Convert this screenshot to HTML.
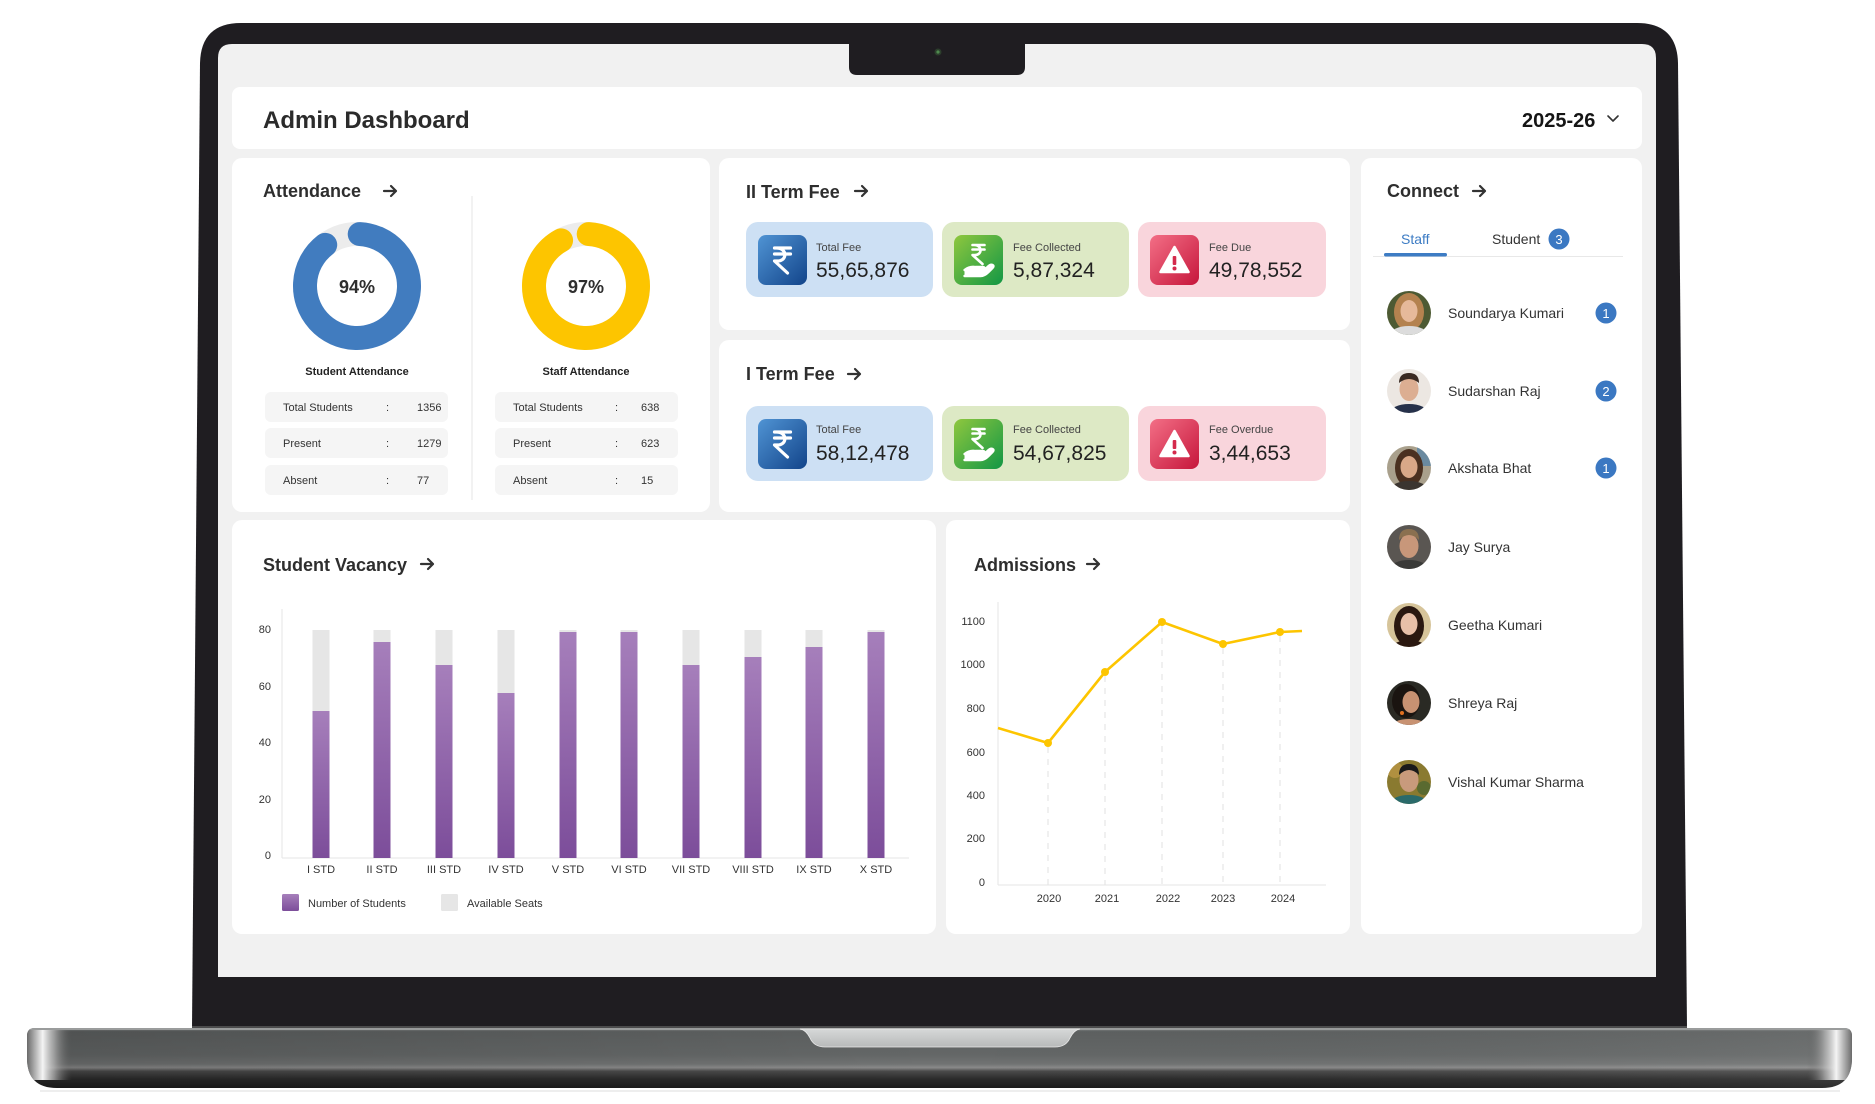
<!DOCTYPE html>
<html><head><meta charset="utf-8"><style>
html,body{margin:0;padding:0;background:#fff;}
svg{display:block;}
text{font-family:"Liberation Sans",Arial,sans-serif;}
</style></head><body>
<svg width="1875" height="1104" viewBox="0 0 1875 1104" xmlns="http://www.w3.org/2000/svg">
<defs>
  <linearGradient id="baseV" x1="0" y1="1028" x2="0" y2="1088" gradientUnits="userSpaceOnUse">
    <stop offset="0" stop-color="#8c8e8e"/><stop offset="0.06" stop-color="#5d6060"/>
    <stop offset="0.45" stop-color="#646767"/><stop offset="0.6" stop-color="#717373"/>
    <stop offset="0.66" stop-color="#8a8a8a"/><stop offset="0.72" stop-color="#4a4a4a"/>
    <stop offset="0.85" stop-color="#2b2b2b"/><stop offset="1" stop-color="#1c1c1c"/>
  </linearGradient>
  <linearGradient id="baseH" x1="27" y1="0" x2="1852" y2="0" gradientUnits="userSpaceOnUse">
    <stop offset="0" stop-color="#000" stop-opacity="0.15"/><stop offset="0.5" stop-color="#000" stop-opacity="0"/>
    <stop offset="1" stop-color="#fff" stop-opacity="0.08"/>
  </linearGradient>
  <linearGradient id="endL" x1="27" y1="0" x2="72" y2="0" gradientUnits="userSpaceOnUse">
    <stop offset="0" stop-color="#6a6a6a"/><stop offset="0.35" stop-color="#f4f4f4"/>
    <stop offset="0.6" stop-color="#bdbdbd" stop-opacity="0.7"/><stop offset="1" stop-color="#5a5a5a" stop-opacity="0"/>
  </linearGradient>
  <linearGradient id="endR" x1="1852" y1="0" x2="1807" y2="0" gradientUnits="userSpaceOnUse">
    <stop offset="0" stop-color="#6a6a6a"/><stop offset="0.35" stop-color="#f4f4f4"/>
    <stop offset="0.6" stop-color="#bdbdbd" stop-opacity="0.7"/><stop offset="1" stop-color="#5a5a5a" stop-opacity="0"/>
  </linearGradient>
  <linearGradient id="pad" x1="0" y1="0" x2="0" y2="1">
    <stop offset="0" stop-color="#d6d8d8"/><stop offset="1" stop-color="#b8baba"/>
  </linearGradient>
  <clipPath id="baseClip"><path d="M35,1028 H1844 Q1852,1028 1852,1036 V1058 Q1852,1088 1822,1088 H57 Q27,1088 27,1058 V1036 Q27,1028 35,1028 Z"/></clipPath>
  <linearGradient id="purp" x1="0" y1="0" x2="0" y2="1">
    <stop offset="0" stop-color="#a67fbb"/><stop offset="1" stop-color="#7c4d9a"/>
  </linearGradient>
  <linearGradient id="icB" x1="0" y1="0" x2="1" y2="1">
    <stop offset="0" stop-color="#5094d4"/><stop offset="1" stop-color="#12448a"/>
  </linearGradient>
  <linearGradient id="icG" x1="0" y1="0" x2="1" y2="1">
    <stop offset="0" stop-color="#8fc73e"/><stop offset="1" stop-color="#129745"/>
  </linearGradient>
  <linearGradient id="icR" x1="0" y1="0" x2="1" y2="1">
    <stop offset="0" stop-color="#f36f86"/><stop offset="1" stop-color="#c6163b"/>
  </linearGradient>
  <clipPath id="av"><circle cx="0" cy="0" r="22"/></clipPath>
  <g id="rupee">
    <path d="M-8,-12 H8 M-8,-6 H8 M-6,-12 C5,-12 5,1 -5,1 H-8 L5,13" fill="none" stroke="#fff" stroke-width="3.2" stroke-linecap="round" stroke-linejoin="round"/>
  </g>
  <g id="rupeeHand">
    <path d="M-6,-17 H6 M-6,-12.5 H6 M-4.5,-17 C4,-17 4,-7 -3.5,-7 H-6 L4,2" fill="none" stroke="#fff" stroke-width="2.6" stroke-linecap="round" stroke-linejoin="round"/>
    <path d="M-14,8 Q-9,4 -3,5 H4 Q7,5 6,8 H-2 M-14,14 H2 Q6,14 10,10 L14,6 Q16,4 14,3 Q12,2 9,5 L6,8" fill="#fff" stroke="#fff" stroke-width="2.4" stroke-linejoin="round" stroke-linecap="round"/>
    <path d="M-14,8 L-14,15 H2 Q6,15 10,10 L6,8 H-2 Z" fill="#fff"/>
  </g>
  <g id="warn">
    <path d="M0,-14 L14,11 H-14 Z" fill="#fff" stroke="#fff" stroke-width="2.5" stroke-linejoin="round"/>
    <rect x="-1.8" y="-5" width="3.6" height="9" rx="1" fill="#d42a4c"/>
    <circle cx="0" cy="7.5" r="2" fill="#d42a4c"/>
  </g>
</defs>

<!-- Laptop bezel -->
<path d="M241,23 H1637 Q1677,23 1678,63 L1687,1028 H192 L200,63 Q201,23 241,23 Z" fill="#1f1d21"/>
<!-- Screen -->
<path d="M232,44 H1642 Q1656,44 1656,58 V977 H218 V58 Q218,44 232,44 Z" fill="#f1f1f1"/>
<!-- Notch -->
<path d="M849,44 H1025 V67 Q1025,75 1017,75 H857 Q849,75 849,67 Z" fill="#1f1d21"/>
<circle cx="938" cy="52" r="3.5" fill="#2c3e2c"/><circle cx="938" cy="52" r="1.6" fill="#4f8a4f"/>

<!-- Base -->
<line x1="192" y1="1027" x2="1687" y2="1027" stroke="#5c5c5c" stroke-width="1.5"/>
<g clip-path="url(#baseClip)">
  <rect x="27" y="1028" width="1825" height="60" fill="url(#baseV)"/>
  <rect x="27" y="1028" width="1825" height="60" fill="url(#baseH)"/>
  <rect x="27" y="1028" width="45" height="52" fill="url(#endL)"/>
  <rect x="1807" y="1028" width="45" height="52" fill="url(#endR)"/>
  <rect x="27" y="1028" width="1825" height="2" fill="#9a9c9c"/>
</g>
<path d="M800,1029 H1080 Q1074,1030 1070,1038 Q1066,1047 1055,1047 H825 Q814,1047 810,1038 Q806,1030 800,1029 Z" fill="url(#pad)" stroke="#e8e8e8" stroke-width="0.8"/>
<line x1="40" y1="1091" x2="1840" y2="1091" stroke="#eeeeee" stroke-width="2"/>

<!-- Cards -->
<g fill="#ffffff">
  <rect x="232" y="87" width="1410" height="62" rx="8"/>
  <rect x="232" y="158" width="478" height="354" rx="10"/>
  <rect x="719" y="158" width="631" height="172" rx="10"/>
  <rect x="719" y="340" width="631" height="172" rx="10"/>
  <rect x="232" y="520" width="704" height="414" rx="10"/>
  <rect x="946" y="520" width="404" height="414" rx="10"/>
  <rect x="1361" y="158" width="281" height="776" rx="10"/>
</g>

<!-- Header -->
<text x="263" y="128" font-size="24" font-weight="bold" fill="#2b2b2b">Admin Dashboard</text>
<text x="1522" y="127" font-size="20" font-weight="bold" fill="#151515">2025-26</text>
<polyline points="1608,116 1613,121 1618,116" fill="none" stroke="#333" stroke-width="1.6" stroke-linecap="round" stroke-linejoin="round"/>

<!-- Titles + arrows -->
<g font-size="18" font-weight="bold" fill="#2e2e2e">
  <text x="263" y="197">Attendance</text>
  <text x="746" y="198">II Term Fee</text>
  <text x="746" y="380">I Term Fee</text>
  <text x="263" y="571">Student Vacancy</text>
  <text x="974" y="571">Admissions</text>
  <text x="1387" y="197">Connect</text>
</g>
<g fill="none" stroke="#333" stroke-width="2.2" stroke-linecap="round" stroke-linejoin="round">
  <path d="M384,191 H396 M391,186 L396,191 L391,196"/>
  <path d="M855,191 H867 M862,186 L867,191 L862,196"/>
  <path d="M848,374 H860 M855,369 L860,374 L855,379"/>
  <path d="M421,564 H433 M428,559 L433,564 L428,569"/>
  <path d="M1087,564 H1099 M1094,559 L1099,564 L1094,569"/>
  <path d="M1473,191 H1485 M1480,186 L1485,191 L1480,196"/>
</g>

<!-- Attendance donuts -->
<circle cx="357" cy="286" r="52" fill="none" stroke="#ececec" stroke-width="24"/>
<circle cx="357" cy="286" r="52" fill="none" stroke="#417cbf" stroke-width="24" stroke-linecap="round" stroke-dasharray="289.5 400" transform="rotate(-87 357 286)"/>
<circle cx="586" cy="286" r="52" fill="none" stroke="#ececec" stroke-width="24"/>
<circle cx="586" cy="286" r="52" fill="none" stroke="#fdc500" stroke-width="24" stroke-linecap="round" stroke-dasharray="297.7 400" transform="rotate(-87 586 286)"/>
<text x="357" y="293" font-size="18" font-weight="bold" fill="#2e2e2e" text-anchor="middle">94%</text>
<text x="586" y="293" font-size="18" font-weight="bold" fill="#2e2e2e" text-anchor="middle">97%</text>
<text x="357" y="375" font-size="11" font-weight="bold" fill="#222" text-anchor="middle">Student Attendance</text>
<text x="586" y="375" font-size="11" font-weight="bold" fill="#222" text-anchor="middle">Staff Attendance</text>
<line x1="472" y1="196" x2="472" y2="500" stroke="#e6e6e6" stroke-width="1"/>

<g fill="#f5f5f5">
  <rect x="265" y="392" width="183" height="30" rx="6"/>
  <rect x="265" y="428" width="183" height="30" rx="6"/>
  <rect x="265" y="465" width="183" height="30" rx="6"/>
  <rect x="495" y="392" width="183" height="30" rx="6"/>
  <rect x="495" y="428" width="183" height="30" rx="6"/>
  <rect x="495" y="465" width="183" height="30" rx="6"/>
</g>
<g font-size="11" fill="#333">
  <text x="283" y="411">Total Students</text><text x="386" y="411">:</text><text x="417" y="411">1356</text>
  <text x="283" y="447">Present</text><text x="386" y="447">:</text><text x="417" y="447">1279</text>
  <text x="283" y="484">Absent</text><text x="386" y="484">:</text><text x="417" y="484">77</text>
  <text x="513" y="411">Total Students</text><text x="615" y="411">:</text><text x="641" y="411">638</text>
  <text x="513" y="447">Present</text><text x="615" y="447">:</text><text x="641" y="447">623</text>
  <text x="513" y="484">Absent</text><text x="615" y="484">:</text><text x="641" y="484">15</text>
</g>

<!-- Fee boxes -->
<g>
  <rect x="746" y="222" width="187" height="75" rx="12" fill="#cde0f4"/>
  <rect x="942" y="222" width="187" height="75" rx="12" fill="#dde9c5"/>
  <rect x="1138" y="222" width="188" height="75" rx="12" fill="#f9d5dc"/>
  <rect x="746" y="406" width="187" height="75" rx="12" fill="#cde0f4"/>
  <rect x="942" y="406" width="187" height="75" rx="12" fill="#dde9c5"/>
  <rect x="1138" y="406" width="188" height="75" rx="12" fill="#f9d5dc"/>

  <rect x="758" y="235" width="49" height="50" rx="8" fill="url(#icB)"/>
  <rect x="954" y="235" width="49" height="50" rx="8" fill="url(#icG)"/>
  <rect x="1150" y="235" width="49" height="50" rx="8" fill="url(#icR)"/>
  <rect x="758" y="419" width="49" height="50" rx="8" fill="url(#icB)"/>
  <rect x="954" y="419" width="49" height="50" rx="8" fill="url(#icG)"/>
  <rect x="1150" y="419" width="49" height="50" rx="8" fill="url(#icR)"/>

  <use href="#rupee" transform="translate(782.5,260)"/>
  <use href="#rupee" transform="translate(782.5,444)"/>
  <use href="#rupeeHand" transform="translate(978.5,262)"/>
  <use href="#rupeeHand" transform="translate(978.5,446)"/>
  <use href="#warn" transform="translate(1174.5,261)"/>
  <use href="#warn" transform="translate(1174.5,445)"/>
</g>
<g font-size="11" fill="#444">
  <text x="816" y="251">Total Fee</text>
  <text x="1013" y="251">Fee Collected</text>
  <text x="1209" y="251">Fee Due</text>
  <text x="816" y="433">Total Fee</text>
  <text x="1013" y="433">Fee Collected</text>
  <text x="1209" y="433">Fee Overdue</text>
</g>
<g font-size="21" fill="#222">
  <text x="816" y="277">55,65,876</text>
  <text x="1013" y="277">5,87,324</text>
  <text x="1209" y="277">49,78,552</text>
  <text x="816" y="460">58,12,478</text>
  <text x="1013" y="460">54,67,825</text>
  <text x="1209" y="460">3,44,653</text>
</g>

<!-- Student Vacancy chart -->
<line x1="282" y1="609" x2="282" y2="858" stroke="#e5e5e5"/>
<line x1="282" y1="858" x2="909" y2="858" stroke="#e5e5e5"/>
<g font-size="11" fill="#333" text-anchor="end">
  <text x="271" y="633">80</text><text x="271" y="690">60</text><text x="271" y="746">40</text>
  <text x="271" y="803">20</text><text x="271" y="859">0</text>
</g>
<g fill="#e6e6e6">
  <rect x="312.5" y="630" width="17" height="228"/><rect x="373.5" y="630" width="17" height="228"/>
  <rect x="435.5" y="630" width="17" height="228"/><rect x="497.5" y="630" width="17" height="228"/>
  <rect x="559.5" y="630" width="17" height="228"/><rect x="620.5" y="630" width="17" height="228"/>
  <rect x="682.5" y="630" width="17" height="228"/><rect x="744.5" y="630" width="17" height="228"/>
  <rect x="805.5" y="630" width="17" height="228"/><rect x="867.5" y="630" width="17" height="228"/>
</g>
<g fill="url(#purp)">
  <rect x="312.5" y="711" width="17" height="147"/>
  <rect x="373.5" y="642" width="17" height="216"/>
  <rect x="435.5" y="665" width="17" height="193"/>
  <rect x="497.5" y="693" width="17" height="165"/>
  <rect x="559.5" y="632" width="17" height="226"/>
  <rect x="620.5" y="632" width="17" height="226"/>
  <rect x="682.5" y="665" width="17" height="193"/>
  <rect x="744.5" y="657" width="17" height="201"/>
  <rect x="805.5" y="647" width="17" height="211"/>
  <rect x="867.5" y="632" width="17" height="226"/>
</g>
<g font-size="11" fill="#333" text-anchor="middle">
  <text x="321" y="873">I STD</text><text x="382" y="873">II STD</text><text x="444" y="873">III STD</text>
  <text x="506" y="873">IV STD</text><text x="568" y="873">V STD</text><text x="629" y="873">VI STD</text>
  <text x="691" y="873">VII STD</text><text x="753" y="873">VIII STD</text><text x="814" y="873">IX STD</text>
  <text x="876" y="873">X STD</text>
</g>
<rect x="282" y="894" width="17" height="17" rx="1.5" fill="url(#purp)"/>
<text x="308" y="907" font-size="11" fill="#333">Number of Students</text>
<rect x="441" y="894" width="17" height="17" rx="1.5" fill="#e6e6e6"/>
<text x="467" y="907" font-size="11" fill="#333">Available Seats</text>

<!-- Admissions chart -->
<line x1="998" y1="602" x2="998" y2="885" stroke="#e5e5e5"/>
<line x1="998" y1="885" x2="1326" y2="885" stroke="#e5e5e5"/>
<g stroke="#e2e2e2" stroke-dasharray="6 6">
  <line x1="1048" y1="747" x2="1048" y2="885"/>
  <line x1="1105" y1="676" x2="1105" y2="885"/>
  <line x1="1162" y1="626" x2="1162" y2="885"/>
  <line x1="1223" y1="648" x2="1223" y2="885"/>
  <line x1="1280" y1="636" x2="1280" y2="885"/>
</g>
<g font-size="11" fill="#333" text-anchor="end">
  <text x="985" y="625">1100</text><text x="985" y="668">1000</text><text x="985" y="712">800</text>
  <text x="985" y="756">600</text><text x="985" y="799">400</text><text x="985" y="842">200</text>
  <text x="985" y="886">0</text>
</g>
<g font-size="11" fill="#333" text-anchor="middle">
  <text x="1049" y="902">2020</text><text x="1107" y="902">2021</text><text x="1168" y="902">2022</text>
  <text x="1223" y="902">2023</text><text x="1283" y="902">2024</text>
</g>
<polyline points="998,728 1048,743 1105,672 1162,622 1223,644 1280,632 1302,631" fill="none" stroke="#fdc500" stroke-width="2.6" stroke-linejoin="round"/>
<g fill="#fdc500">
  <circle cx="1048" cy="743" r="4"/><circle cx="1105" cy="672" r="4"/><circle cx="1162" cy="622" r="4"/>
  <circle cx="1223" cy="644" r="4"/><circle cx="1280" cy="632" r="4"/>
</g>

<!-- Connect panel -->
<text x="1401" y="244" font-size="14" fill="#3d7cc4">Staff</text>
<text x="1492" y="244" font-size="14" fill="#333">Student</text>
<circle cx="1559" cy="239" r="10.5" fill="#3b78c2"/>
<text x="1559" y="244" font-size="13" fill="#fff" text-anchor="middle">3</text>
<line x1="1373" y1="256.5" x2="1623" y2="256.5" stroke="#e8e8e8"/>
<rect x="1384" y="253" width="63" height="3.5" rx="1.7" fill="#3d7cc4"/>

<!-- avatars -->
<g transform="translate(1409,313)"><g clip-path="url(#av)">
  <rect x="-22" y="-22" width="44" height="44" fill="#4d5a33"/>
  <ellipse cx="0" cy="-1" rx="15" ry="19" fill="#b4824f"/>
  <ellipse cx="0" cy="-2" rx="8.5" ry="11" fill="#e6b99a"/>
  <ellipse cx="0" cy="22" rx="19" ry="9" fill="#dcdcdc"/>
</g></g>
<g transform="translate(1409,391)"><g clip-path="url(#av)">
  <rect x="-22" y="-22" width="44" height="44" fill="#ece7e2"/>
  <ellipse cx="0" cy="-2" rx="9.5" ry="12" fill="#dcae92"/>
  <path d="M-10,-8 Q-10,-18 0,-18 Q10,-18 10,-8 Q5,-12 0,-12 Q-5,-12 -10,-8 Z" fill="#3a2a22"/>
  <ellipse cx="0" cy="22" rx="19" ry="9" fill="#26314a"/>
</g></g>
<g transform="translate(1409,468)"><g clip-path="url(#av)">
  <rect x="-22" y="-22" width="44" height="44" fill="#a9a08c"/>
  <rect x="8" y="-22" width="14" height="20" fill="#6a8aa0"/>
  <ellipse cx="0" cy="0" rx="14" ry="19" fill="#4a3020"/>
  <ellipse cx="0" cy="-1" rx="8.5" ry="11" fill="#d9a888"/>
  <ellipse cx="0" cy="22" rx="19" ry="9" fill="#3b3530"/>
</g></g>
<g transform="translate(1409,547)"><g clip-path="url(#av)">
  <rect x="-22" y="-22" width="44" height="44" fill="#5a5652"/>
  <ellipse cx="0" cy="-1" rx="9.5" ry="12" fill="#c8977a"/>
  <path d="M-10,-7 Q-10,-18 0,-18 Q10,-18 10,-7 Q5,-12 0,-12 Q-5,-12 -10,-7 Z" fill="#8a7050"/>
  <ellipse cx="0" cy="22" rx="19" ry="9" fill="#3a3a38"/>
</g></g>
<g transform="translate(1409,625)"><g clip-path="url(#av)">
  <rect x="-22" y="-22" width="44" height="44" fill="#d6c49a"/>
  <ellipse cx="0" cy="1" rx="15" ry="20" fill="#2a1810"/>
  <ellipse cx="0" cy="-1" rx="8.5" ry="11" fill="#e8c0a8"/>
  <ellipse cx="0" cy="23" rx="17" ry="8" fill="#2a1810"/>
</g></g>
<g transform="translate(1409,703)"><g clip-path="url(#av)">
  <rect x="-22" y="-22" width="44" height="44" fill="#2a2a24"/>
  <ellipse cx="-3" cy="-2" rx="14" ry="17" fill="#1a1410"/>
  <ellipse cx="2" cy="-1" rx="8.5" ry="11" fill="#c89272"/>
  <circle cx="-7" cy="10" r="2" fill="#e07020"/>
  <ellipse cx="0" cy="23" rx="17" ry="7" fill="#c89272"/>
</g></g>
<g transform="translate(1409,782)"><g clip-path="url(#av)">
  <rect x="-22" y="-22" width="44" height="44" fill="#8a7a30"/>
  <circle cx="-14" cy="-12" r="8" fill="#b09040"/><circle cx="15" cy="6" r="7" fill="#5a6a30"/>
  <ellipse cx="0" cy="-2" rx="9.5" ry="12" fill="#c89a7c"/>
  <path d="M-10,-7 Q-10,-18 0,-18 Q10,-18 10,-7 Q5,-12 0,-12 Q-5,-12 -10,-7 Z" fill="#1a1a1a"/>
  <ellipse cx="0" cy="22" rx="19" ry="9" fill="#2a6a6a"/>
</g></g>

<g font-size="14" fill="#333">
  <text x="1448" y="318">Soundarya Kumari</text>
  <text x="1448" y="396">Sudarshan Raj</text>
  <text x="1448" y="473">Akshata Bhat</text>
  <text x="1448" y="552">Jay Surya</text>
  <text x="1448" y="630">Geetha Kumari</text>
  <text x="1448" y="708">Shreya Raj</text>
  <text x="1448" y="787">Vishal Kumar Sharma</text>
</g>
<g fill="#3b78c2">
  <circle cx="1606" cy="313" r="10.5"/><circle cx="1606" cy="391" r="10.5"/><circle cx="1606" cy="468" r="10.5"/>
</g>
<g font-size="13" fill="#fff" text-anchor="middle">
  <text x="1606" y="318">1</text><text x="1606" y="396">2</text><text x="1606" y="473">1</text>
</g>
</svg>
</body></html>
